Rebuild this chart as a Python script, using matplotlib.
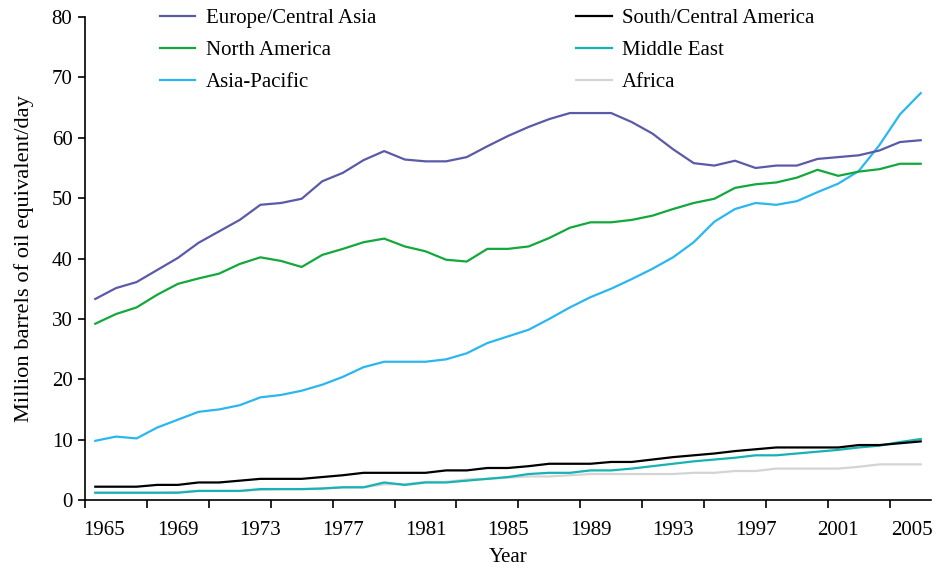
import matplotlib
matplotlib.use("Agg")
import matplotlib.pyplot as plt
import matplotlib.transforms as mtransforms
import numpy as np

years = list(range(1965, 2006))

europe_central_asia = [33.3, 35.1, 36.1, 38.1, 40.1, 42.6, 44.5, 46.4, 48.9, 49.2,
                       49.9, 52.8, 54.2, 56.3, 57.8, 56.4, 56.1, 56.1, 56.8, 58.6,
                       60.3, 61.8, 63.1, 64.1, 64.1, 64.1, 62.6, 60.7, 58.1, 55.8,
                       55.4, 56.2, 55.0, 55.4, 55.4, 56.5, 56.8, 57.1, 57.9, 59.3, 59.6]
north_america = [29.2, 30.8, 31.9, 34.0, 35.8, 36.7, 37.5, 39.1, 40.2, 39.6,
                 38.6, 40.6, 41.6, 42.7, 43.3, 42.0, 41.2, 39.8, 39.5, 41.6,
                 41.6, 42.0, 43.4, 45.1, 46.0, 46.0, 46.4, 47.1, 48.2, 49.2,
                 49.9, 51.7, 52.3, 52.6, 53.4, 54.7, 53.7, 54.4, 54.8, 55.7, 55.7]
asia_pacific = [9.8, 10.5, 10.2, 12.0, 13.3, 14.6, 15.0, 15.7, 17.0, 17.4,
                18.1, 19.1, 20.4, 22.0, 22.9, 22.9, 22.9, 23.3, 24.3, 26.0,
                27.1, 28.2, 30.0, 31.9, 33.6, 35.0, 36.6, 38.3, 40.2, 42.7,
                46.1, 48.2, 49.2, 48.9, 49.5, 51.0, 52.4, 54.5, 58.8, 63.9, 67.4]
south_central_america = [2.2, 2.2, 2.2, 2.5, 2.5, 2.9, 2.9, 3.2, 3.5, 3.5,
                         3.5, 3.8, 4.1, 4.5, 4.5, 4.5, 4.5, 4.9, 4.9, 5.3,
                         5.3, 5.6, 6.0, 6.0, 6.0, 6.3, 6.3, 6.7, 7.1, 7.4,
                         7.7, 8.1, 8.4, 8.7, 8.7, 8.7, 8.7, 9.1, 9.1, 9.4, 9.7]
middle_east = [1.2, 1.2, 1.2, 1.2, 1.2, 1.5, 1.5, 1.5, 1.8, 1.8,
               1.8, 1.9, 2.1, 2.1, 2.9, 2.5, 2.9, 2.9, 3.2, 3.5,
               3.8, 4.3, 4.5, 4.5, 4.9, 4.9, 5.2, 5.6, 6.0, 6.4,
               6.7, 7.0, 7.4, 7.4, 7.7, 8.0, 8.3, 8.7, 9.0, 9.6, 10.1]
africa = [1.2, 1.2, 1.2, 1.2, 1.3, 1.5, 1.5, 1.5, 1.7, 1.8,
          1.8, 1.9, 2.1, 2.1, 2.6, 2.6, 3.0, 3.0, 3.4, 3.5,
          3.7, 3.9, 3.9, 4.1, 4.3, 4.3, 4.3, 4.3, 4.3, 4.5,
          4.5, 4.8, 4.8, 5.2, 5.2, 5.2, 5.2, 5.5, 5.9, 5.9, 5.9]

label_years = [1965, 1969, 1973, 1977, 1981, 1985, 1989, 1993, 1997, 2001, 2005]
y_ticks = [0, 10, 20, 30, 40, 50, 60, 70, 80]

series = [
    ("Europe/Central Asia", europe_central_asia, "#5a5aa8"),
    ("North America", north_america, "#13a83b"),
    ("Asia-Pacific", asia_pacific, "#2ab7ef"),
    ("South/Central America", south_central_america, "#000000"),
    ("Middle East", middle_east, "#17b2b2"),
    ("Africa", africa, "#d4d4d8"),
]

plt.rcParams['font.family'] = ['Liberation Serif', 'DejaVu Serif']
FS = 15

fig = plt.figure(figsize=(9.39, 5.69), dpi=100)
ax = fig.add_axes([0.0905, 0.1213, 0.901, 0.8487])

x = np.arange(len(years))
draw_order = [5, 4, 3, 2, 1, 0]
handles = {}
for idx in draw_order:
    name, vals, col = series[idx]
    h, = ax.plot(x, vals, color=col, lw=1.6, label=name)
    handles[idx] = h

ax.set_xlim(-0.5, len(years) - 0.5)
ax.set_ylim(0, 80)

ax.set_xticks(np.arange(-0.5, len(years) - 1, 3))
ax.set_xticklabels([])
ax.tick_params(axis='x', which='major', direction='out', length=6, width=1.2)
ax.set_xticks([years.index(yv) for yv in label_years], minor=True)
ax.set_xticklabels([str(yv) for yv in label_years], minor=True, fontsize=FS)
ax.tick_params(axis='x', which='minor', length=0, pad=15)

minor_labels = ax.get_xticklabels(minor=True)
minor_labels[0].set_transform(minor_labels[0].get_transform() +
                              mtransforms.ScaledTranslation(9 / 100, 0, fig.dpi_scale_trans))
minor_labels[-1].set_transform(minor_labels[-1].get_transform() +
                               mtransforms.ScaledTranslation(-9 / 100, 0, fig.dpi_scale_trans))

ax.set_yticks(y_ticks)
ax.set_yticklabels([str(v) for v in y_ticks], fontsize=FS)
ax.tick_params(axis='y', direction='out', length=5, width=1.2, pad=4)

for s in ['top', 'right']:
    ax.spines[s].set_visible(False)
for s in ['left', 'bottom']:
    ax.spines[s].set_linewidth(1.2)

ax.set_xlabel("Year", fontsize=FS, labelpad=6)
ax.set_ylabel("Million barrels of oil equivalent/day", fontsize=16.2, labelpad=13)

leg = ax.legend([handles[i] for i in range(6)], [series[i][0] for i in range(6)],
                ncol=2, loc='upper left', bbox_to_anchor=(0.069, 1.052),
                frameon=False, fontsize=FS, handlelength=1.7, handletextpad=0.5,
                columnspacing=9.6, labelspacing=0.6, borderpad=0.3)

fig.savefig("out.png", dpi=100)
